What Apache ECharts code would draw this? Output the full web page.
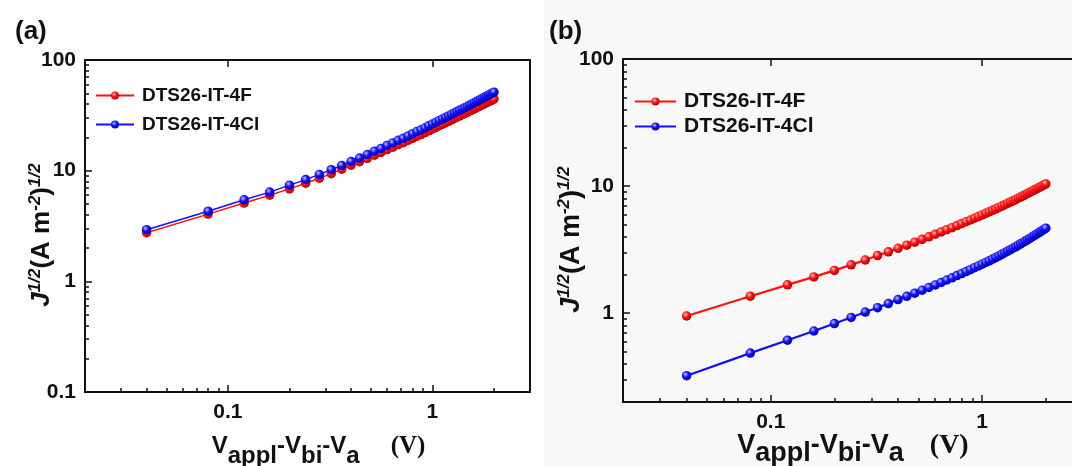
<!DOCTYPE html>
<html><head><meta charset="utf-8">
<script src="https://cdn.jsdelivr.net/npm/echarts@6/dist/echarts.min.js"></script>
<style>html,body{margin:0;padding:0;background:#fff}#c{width:1072px;height:466px}</style>
</head><body><div id="c"></div>
<script>
// ---- data ----
const voltage = [0.04,0.08,0.12,0.16,0.20,0.24,0.28,0.32,0.36,0.40,0.44,0.48,0.52,0.56,0.60,0.64,0.68,0.72,0.76,0.80,0.84,0.88,0.92,0.96,1.00,1.04,1.08,1.12,1.16,1.20,1.24,1.28,1.32,1.36,1.40,1.44,1.48,1.52,1.56,1.60,1.64,1.68,1.72,1.76,1.80,1.84,1.88,1.92,1.96,2.00];
const aJ_4F  = [2.75,4.05,5.1,6.0,6.85,7.7,8.55,9.4,10.3,11.2,12.05,12.9,13.8,14.6,15.5,16.3,17.2,17.9,18.8,19.6,20.5,21.2,22.1,22.9,23.8,24.6,25.5,26.3,27.1,27.9,28.8,29.6,30.5,31.3,32.1,32.9,33.7,34.6,35.4,36.2,37.1,37.8,38.7,39.6,40.3,41.2,42.0,42.8,43.6,44.5];
const aJ_4Cl = [2.93,4.3,5.45,6.4,7.4,8.3,9.25,10.2,11.15,12.1,13.0,14.0,15.0,15.9,16.9,17.8,18.8,19.6,20.6,21.6,22.6,23.4,24.4,25.4,26.4,27.4,28.4,29.3,30.2,31.2,32.3,33.2,34.3,35.2,36.1,37.1,38.0,39.1,40.1,41.1,42.1,43.0,44.1,45.1,46.0,47.1,48.1,49.1,50.1,51.2];
const bJ_4F  = [0.95,1.36,1.67,1.93,2.17,2.40,2.62,2.84,3.04,3.24,3.43,3.62,3.81,3.99,4.18,4.36,4.54,4.71,4.89,5.07,5.24,5.41,5.59,5.76,5.93,6.10,6.27,6.44,6.61,6.79,6.96,7.14,7.32,7.50,7.66,7.84,8.02,8.20,8.38,8.56,8.75,8.92,9.11,9.30,9.47,9.66,9.84,10.02,10.21,10.40];
const bJ_4Cl = [0.322,0.485,0.613,0.724,0.828,0.925,1.02,1.105,1.19,1.28,1.358,1.437,1.515,1.592,1.669,1.746,1.824,1.898,1.976,2.051,2.126,2.201,2.280,2.354,2.431,2.508,2.583,2.663,2.741,2.823,2.903,2.988,3.076,3.161,3.243,3.329,3.418,3.511,3.598,3.690,3.785,3.874,3.976,4.073,4.162,4.264,4.359,4.457,4.559,4.664];
const seriesNames = ['DTS26-IT-4F', 'DTS26-IT-4Cl'];
const xMajor = [0.1, 1];
const xMinor = [0.03,0.04,0.05,0.06,0.07,0.08,0.09,0.2,0.3,0.4,0.5,0.6,0.7,0.8,0.9,2];
const yMajorA = [0.1, 1, 10, 100];
const yMajorB = [1, 10, 100];
const yMinor = [0.2,0.3,0.4,0.5,0.6,0.7,0.8,0.9,2,3,4,5,6,7,8,9,20,30,40,50,60,70,80,90];
const X_MIN = 0.02, X_MAX = 3, Y_MAX = 100, YA_MIN = 0.1, YB_MIN = 0.2;

const SANS = 'Liberation Sans, Arial, sans-serif';
const INK = '#111';
const fmt = v => v >= 1 ? String(Math.round(v)) : String(+v.toPrecision(2));

function ballColor(base, light, dark) {
  return {type:'radial', x:0.38, y:0.35, r:0.7,
    colorStops:[{offset:0,color:light},{offset:0.45,color:base},{offset:1,color:dark}]};
}
const RED = '#ff1010', BLUE = '#1010ff';
const redBall = ballColor(RED, '#ffc0c0', '#b00000');
const blueBall = ballColor(BLUE, '#c0c0ff', '#0000a8');

// hidden linear helper axis (in log10 space) that only draws tick marks
function tickAxis(grid, pos, lo, hi, vals, len) {
  return {gridIndex:grid, type:'value', position:pos, min:Math.log10(lo), max:Math.log10(hi), interval:1000,
    axisLine:{show:false, onZero:false}, axisLabel:{show:false}, splitLine:{show:false},
    axisTick:{show:true, inside:true, length:len, lineStyle:{color:INK, width:1.5}, customValues:vals.map(v => Math.log10(v))}};
}

function xAxes(grid, fs, t) {
  const base = {gridIndex:grid, type:'log', logBase:10, min:X_MIN, max:X_MAX, splitLine:{show:false}, axisTick:{show:false}};
  return [
    Object.assign({}, base, {position:'bottom',
      axisLine:{show:true, onZero:false, lineStyle:{color:INK, width:2}},
      axisLabel:{show:true, customValues:xMajor, formatter:fmt, margin:t.labelMargin, fontSize:fs, fontWeight:'bold', color:INK, fontFamily:SANS},
      name:'{v|V}{s|appl}{v|-V}{s|bi}{v|-V}{s|a}{g|}{u|(V)}',
      nameLocation:'middle', nameGap:t.gap, nameMoveOverlap:false,
      nameTextStyle:{padding:t.pad, rich:{
        v:{fontSize:t.fs, fontWeight:'bold', fontFamily:SANS, color:INK, lineHeight:t.fs, verticalAlign:'top'},
        s:{fontSize:t.fs, fontWeight:'bold', fontFamily:SANS, color:INK, lineHeight:t.fs+t.sub*2, verticalAlign:'bottom'},
        g:{width:t.space},
        u:{fontSize:t.fs+1, fontWeight:'bold', fontFamily:'Liberation Serif, Times New Roman, serif', color:INK, lineHeight:t.fs, verticalAlign:'top'}
      }}
    }),
    tickAxis(grid, 'bottom', X_MIN, X_MAX, xMajor, 7),
    tickAxis(grid, 'bottom', X_MIN, X_MAX, xMinor, 4),
    Object.assign({}, base, {position:'top',
      axisLine:{show:true, onZero:false, lineStyle:{color:INK, width:2}}, axisLabel:{show:false}}),
    tickAxis(grid, 'top', X_MIN, X_MAX, xMajor, 7)
  ];
}
function yAxes(grid, min, major, fs, t) {
  const base = {gridIndex:grid, type:'log', logBase:10, min:min, max:Y_MAX, splitLine:{show:false}, axisTick:{show:false}};
  return [
    Object.assign({}, base, {position:'left',
      axisLine:{show:true, onZero:false, lineStyle:{color:INK, width:2}},
      axisLabel:{show:true, customValues:major, formatter:fmt, margin:9, fontSize:fs, fontWeight:'bold', color:INK, fontFamily:SANS},
      name:'{j|J}{p|1/2}{m|(A m}{p|-2}{m|)}{p|1/2}',
      nameLocation:'middle', nameGap:t.gap, nameRotate:90, nameMoveOverlap:false,
      nameTextStyle:{padding:[0, t.shift, 0, 0], rich:{
        j:{fontSize:t.fs, fontWeight:'bold', fontStyle:'italic', fontFamily:SANS, color:INK, lineHeight:t.fs+2, verticalAlign:'bottom'},
        m:{fontSize:t.fs, fontWeight:'bold', fontFamily:SANS, color:INK, lineHeight:t.fs+2, verticalAlign:'bottom'},
        p:{fontSize:t.sfs, fontWeight:'bold', fontStyle:'italic', fontFamily:SANS, color:INK, lineHeight:t.sfs, verticalAlign:'top'}
      }}
    }),
    tickAxis(grid, 'left', min, Y_MAX, major, 7),
    tickAxis(grid, 'left', min, Y_MAX, yMinor, 4),
    Object.assign({}, base, {position:'right',
      axisLine:{show:true, onZero:false, lineStyle:{color:INK, width:2}}, axisLabel:{show:false}})
  ];
}
function lineSeries(name, xi, yi, ys, color, ball, lw) {
  return {type:'line', name:name, xAxisIndex:xi, yAxisIndex:yi,
    data: voltage.map((v, i) => [v, ys[i]]),
    symbol:'circle', symbolSize:9.5, showSymbol:true, showAllSymbol:true,
    lineStyle:{color:color, width:lw}, itemStyle:{color:ball}, color:color,
    emphasis:{disabled:true}, animation:false};
}

const chart = echarts.init(document.getElementById('c'), null, {renderer:'canvas'});
chart.setOption({
  backgroundColor:'#ffffff',
  animation:false,
  graphic:[{type:'rect', z:-100, silent:true, shape:{x:544, y:0, width:528, height:466}, style:{fill:'#f8f8f8'}}],
  title:[
    {text:'(a)', left:10, top:14, textStyle:{fontSize:26, fontWeight:'bold', color:INK, fontFamily:SANS}},
    {text:'(b)', left:544, top:14, textStyle:{fontSize:26, fontWeight:'bold', color:INK, fontFamily:SANS}}
  ],
  legend:[
    {left:90, top:81, orient:'vertical', itemWidth:38, itemHeight:10, itemGap:10, selectedMode:false,
     data:seriesNames, textStyle:{fontSize:19, fontWeight:'bold', color:INK, fontFamily:SANS, padding:[0,0,0,3]}},
    {left:629, top:86, orient:'vertical', itemWidth:41, itemHeight:10, itemGap:4, selectedMode:false,
     data:seriesNames, textStyle:{fontSize:21, fontWeight:'bold', color:INK, fontFamily:SANS, padding:[0,0,0,3]}}
  ],
  grid:[
    {left:85, top:60, width:445, height:332, outerBoundsMode:'none', containLabel:false},
    {left:623, top:59, width:460, height:343, outerBoundsMode:'none', containLabel:false}
  ],
  xAxis: [].concat(
    xAxes(0, 21, {fs:24, sub:5, gap:42, pad:[0,0,0,22], space:31, labelMargin:10}),
    xAxes(1, 21, {fs:27, sub:4, gap:30, pad:[0,0,0,0], space:26, labelMargin:10})
  ),
  yAxis: [].concat(
    yAxes(0, YA_MIN, yMajorA, 21, {fs:26, sfs:17, gap:30, shift:18}),
    yAxes(1, YB_MIN, yMajorB, 21, {fs:27, sfs:17, gap:38, shift:18})
  ),
  series:[
    lineSeries(seriesNames[0], 0, 0, aJ_4F, RED, redBall, 1.5),
    lineSeries(seriesNames[1], 0, 0, aJ_4Cl, BLUE, blueBall, 1.5),
    lineSeries(seriesNames[0], 5, 4, bJ_4F, RED, redBall, 2.2),
    lineSeries(seriesNames[1], 5, 4, bJ_4Cl, BLUE, blueBall, 2.2)
  ]
});
</script></body></html>
